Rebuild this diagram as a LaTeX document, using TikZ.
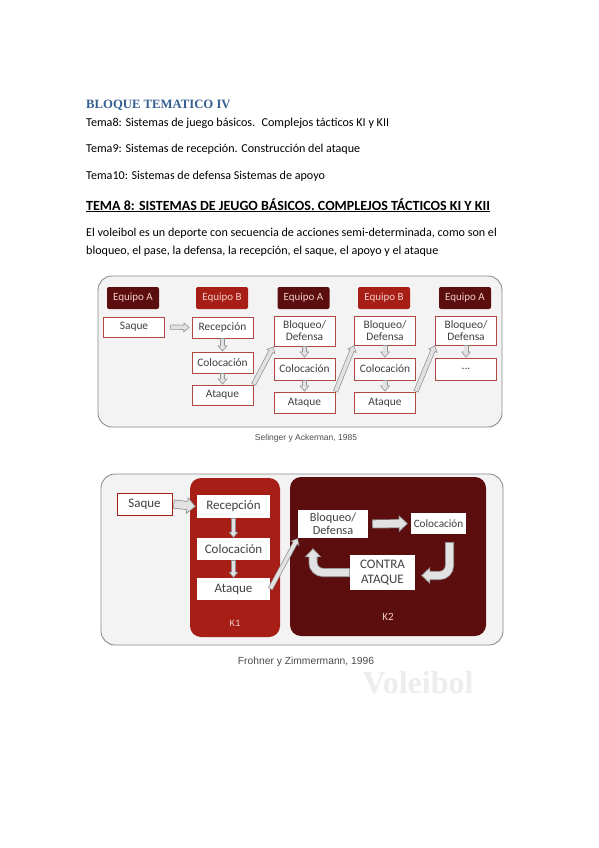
\documentclass[tikz,border=0pt]{standalone}
\usepackage{fontspec}
\setmainfont{Carlito}
\newfontfamily\headserif{Liberation Serif}
\newfontfamily\capsans{Liberation Sans}
\setmonofont{Liberation Mono}
\usetikzlibrary{arrows.meta}
\definecolor{vbblue}{RGB}{54,95,145}
\definecolor{vbmaroon}{RGB}{92,14,14}
\definecolor{vbred}{RGB}{166,30,22}
\definecolor{vbedge}{RGB}{178,72,66}
\definecolor{vbpink}{RGB}{240,205,200}
\definecolor{vbpanel}{RGB}{243,243,243}
\definecolor{vbframe}{RGB}{140,140,140}
\definecolor{vbarrow}{RGB}{226,226,226}
\definecolor{vbarrowedge}{RGB}{145,145,145}

\begin{document}
\begin{tikzpicture}[x=1pt,y=-1pt,
    txt/.style={anchor=base west,inner sep=0pt,font=\fontsize{12.1}{14}\selectfont},
    panel/.style={draw=vbframe,line width=0.9pt,fill=vbpanel,rounded corners=14pt},
    hdr/.style={rounded corners=2pt,minimum width=52pt,minimum height=22pt,inner sep=0pt,text=vbpink,font=\fontsize{11}{12}\selectfont},
    stepbox/.style={draw=vbedge,line width=0.9pt,fill=white,minimum width=61pt,inner sep=0pt,align=center,text=black!75,font=\fontsize{11.4}{12}\selectfont},
    bigbox/.style={fill=white,inner sep=0pt,align=center,text=black!75,font=\fontsize{13}{14.5}\selectfont},
    kpanel/.style={rounded corners=11pt,minimum height=159pt,inner sep=0pt},
    klabel/.style={inner sep=0pt,text=vbpink,font=\ttfamily\fontsize{9.5}{10}\selectfont},
    thinarrow/.style={line width=5pt,draw=vbarrowedge,
      -{Triangle[length=6pt,width=10pt,line width=0.6pt,fill=vbarrow]},
      postaction={draw=vbarrow,line width=3.6pt,-,shorten >=5pt,shorten <=0.7pt}},
    fatarrow/.style={line width=9pt,draw=vbarrowedge,
      -{Triangle[length=9pt,width=17pt,line width=0.7pt,fill=vbarrow]},
      postaction={draw=vbarrow,line width=7.4pt,-,shorten >=8pt,shorten <=0.8pt}}]
  \useasboundingbox (0,0) rectangle (599,848);
  \fill[white] (0,0) rectangle (599,848);

  \node[txt,font=\headserif\bfseries\fontsize{12.7}{14}\selectfont,text=vbblue] (title) at (86,109) {BLOQUE TEMATICO IV};
  \node[txt] (tema8) at (86,126) {Tema8: Sistemas de juego básicos. \ Complejos tácticos KI y KII};
  \node[txt] (tema9) at (86,153) {Tema9: Sistemas de recepción. Construcción del ataque};
  \node[txt] (tema10) at (86,179.5) {Tema10: Sistemas de defensa Sistemas de apoyo};
  \node[txt,font=\bfseries\fontsize{14}{16}\selectfont] (tema8head) at (86,210) {\underline{TEMA 8: SISTEMAS DE JEUGO BÁSICOS. COMPLEJOS TÁCTICOS KI Y KII}};
  \node[txt] (para1) at (86,236.5) {El voleibol es un deporte con secuencia de acciones semi-determinada, como son el};
  \node[txt] (para2) at (86,254) {bloqueo, el pase, la defensa, la recepción, el saque, el apoyo y el ataque};

  % Selinger y Ackerman
  \draw[panel] (98,276) rectangle (502,427);
  \node[hdr,fill=vbmaroon] (eqa1) at (133,298) {Equipo A};
  \node[hdr,fill=vbred] (eqb2) at (222,298) {Equipo B};
  \node[hdr,fill=vbmaroon] (eqa3) at (303.5,298) {Equipo A};
  \node[hdr,fill=vbred] (eqb4) at (384,298) {Equipo B};
  \node[hdr,fill=vbmaroon] (eqa5) at (465,298) {Equipo A};
  \node[stepbox,minimum height=20pt] (saque1) at (134,327) {Saque};
  \node[stepbox,minimum height=21pt] (rec2) at (222.5,327.5) {Recepción};
  \node[stepbox,minimum height=21pt] (col2) at (222.5,362.5) {Colocación};
  \node[stepbox,minimum height=20pt] (ata2) at (222.5,395) {Ataque};
  \node[stepbox,minimum height=30pt] (blo3) at (304.5,331) {Bloqueo/\\Defensa};
  \node[stepbox,minimum height=22pt] (col3) at (304.5,369) {Colocación};
  \node[stepbox,minimum height=21pt] (ata3) at (304.5,402.5) {Ataque};
  \node[stepbox,minimum height=29pt] (blo4) at (385,330.5) {Bloqueo/\\Defensa};
  \node[stepbox,minimum height=22pt] (col4) at (385,369) {Colocación};
  \node[stepbox,minimum height=21pt] (ata4) at (385,402.5) {Ataque};
  \node[stepbox,minimum height=29pt] (blo5) at (466,330.5) {Bloqueo/\\Defensa};
  \node[stepbox,minimum height=22pt] (dots5) at (466,369) {...};
  \draw[thinarrow] ([xshift=5pt]saque1.east) -- ([xshift=-2pt]rec2.west);
  \draw[thinarrow] (rec2) -- (col2);
  \draw[thinarrow] (col2) -- (ata2);
  \draw[thinarrow] (ata2.north east) -- (blo3.south west);
  \draw[thinarrow] (blo3) -- (col3);
  \draw[thinarrow] (col3) -- (ata3);
  \draw[thinarrow] (ata3.north east) -- (blo4.south west);
  \draw[thinarrow] (blo4) -- (col4);
  \draw[thinarrow] (col4) -- (ata4);
  \draw[thinarrow] (ata4.north east) -- (blo5.south west);
  \draw[thinarrow] (blo5) -- (dots5);
  \node[inner sep=0pt,font=\capsans\fontsize{8.5}{10}\selectfont,text=black!70] (cap1) at (306,438) {Selinger y Ackerman, 1985};

  % Frohner y Zimmermann
  \draw[panel] (101,474) rectangle (503,645);
  \node[kpanel,fill=vbred,minimum width=90pt] (k1) at (235,557.5) {};
  \node[kpanel,fill=vbmaroon,minimum width=196pt] (k2) at (388,556.5) {};
  \node[klabel] (k1lab) at (235,623) {K1};
  \node[klabel,font=\fontsize{11}{12}\selectfont] (k2lab) at (388,617) {K2};
  \node[bigbox,draw=vbred,line width=0.9pt,minimum width=55pt,minimum height=22pt] (saque6) at (144.5,504) {Saque};
  \node[bigbox,minimum width=73pt,minimum height=23pt] (rec7) at (233.5,506.5) {Recepción};
  \node[bigbox,minimum width=73pt,minimum height=22pt] (col7) at (233.5,549) {Colocación};
  \node[bigbox,minimum width=73pt,minimum height=22pt] (ata7) at (233.5,589) {Ataque};
  \node[bigbox,minimum width=70pt,minimum height=28pt,font=\fontsize{12.3}{13.5}\selectfont] (blo8) at (333,524) {Bloqueo/\\Defensa};
  \node[bigbox,minimum width=55pt,minimum height=21pt,font=\fontsize{11.2}{12}\selectfont] (col8) at (438.5,523.5) {Colocación};
  \node[bigbox,minimum width=65pt,minimum height=35pt] (contra8) at (382.5,572.5) {CONTRA\\ATAQUE};
  \draw[fatarrow] ([xshift=1pt]saque6.east) -- ([xshift=-1pt]rec7.west);
  \draw[thinarrow] (rec7) -- (col7);
  \draw[thinarrow] (col7) -- (ata7);
  \draw[thinarrow] (ata7.east) -- (blo8.south west);
  \draw[fatarrow] ([xshift=4pt]blo8.east) -- ([xshift=-3pt]col8.west);
  \draw[fatarrow,rounded corners=10pt] ([xshift=11pt,yshift=-8pt]col8.south) |- ([xshift=6pt,yshift=-3pt]contra8.east);
  \draw[fatarrow,rounded corners=10pt] (contra8.west) -| ([xshift=-20pt,yshift=-10pt]blo8.south);
  \node[inner sep=0pt,font=\capsans\fontsize{10.3}{12}\selectfont,text=black!70] (cap2) at (306,662) {Frohner y Zimmermann, 1996};
  \node[inner sep=0pt,font=\headserif\bfseries\fontsize{32}{34}\selectfont,text=black!7] (mark) at (418,683) {Voleibol};
\end{tikzpicture}
\end{document}
